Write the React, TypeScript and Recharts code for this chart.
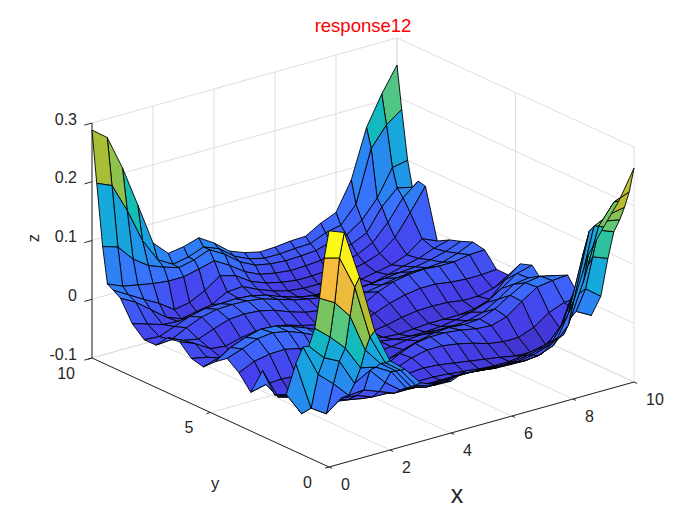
import { ScatterChart, Scatter, XAxis, YAxis } from "recharts";

const xValues = [0, 0.5, 1, 1.5, 2, 2.5, 3, 3.5, 4, 4.5, 5, 5.5, 6, 6.5, 7, 7.5, 8, 8.5, 9, 9.5, 10];
const yValues = [10, 9.8, 9.55, 9.35, 9.1, 8.8, 8.3, 7.8, 7.3, 6.8, 6.3, 5.8, 5.3, 4.8, 4.3, 3.8, 3.3, 2.8, 2.3, 1.8, 1.4, 1.1, 0.85, 0.6, 0.4, 0.2, 0];

// one row per y value, back to front
const zValues = [
    [.288, .268, .209, .139, .067, .042, .046, .054, .038, .017, .007, .001, .002, .005, .006, .021, .032, .080, .162, .212, .254],
    [.201, .190, .140, .082, .042, .027, .032, .042, .032, .012, .000, -.006, -.006, -.004, -.003, .008, .014, .042, .130, .163, .182],
    [.098, .090, .062, .044, .034, .026, .032, .042, .027, .007, -.006, -.011, -.013, -.012, -.010, -.002, .002, .020, .050, .095, .100],
    [.038, .027, .022, .017, .014, .014, .020, .027, .012, -.006, -.018, -.023, -.026, -.025, -.023, -.016, -.010, .002, .039, .064, .058],
    [.032, .017, .002, -.012, -.030, -.025, -.012, .006, -.001, -.018, -.028, -.034, -.038, -.038, -.036, -.030, -.023, -.010, .017, .052, .073],
    [.024, .010, -.010, -.030, -.040, -.035, -.030, -.016, -.014, -.026, -.036, -.043, -.046, -.046, -.044, -.038, -.032, -.023, -.003, .032, .070],
    [-.010, -.018, -.026, -.028, -.026, -.023, -.020, -.018, -.023, -.033, -.040, -.046, -.048, -.048, -.048, -.043, -.038, -.033, -.023, -.003, -.014],
    [-.028, -.030, -.020, -.010, -.004, -.003, -.002, -.004, -.010, -.020, -.028, -.033, -.038, -.041, -.042, -.040, -.033, -.026, -.020, -.010, -.003],
    [-.028, -.026, -.013, -.002, .004, .005, .004, .000, -.008, -.016, -.022, -.026, -.028, -.028, -.026, -.023, -.020, -.018, -.013, -.006, .004],
    [-.006, -.018, -.023, -.013, -.004, -.002, -.004, -.010, -.020, -.028, -.032, -.033, -.030, -.023, -.018, -.013, -.010, -.010, -.008, .000, .012],
    [-.004, -.014, -.030, -.033, -.026, -.022, -.022, -.026, -.034, -.040, -.042, -.038, -.028, -.013, -.003, .002, .004, .002, .002, .007, .008],
    [-.023, -.028, -.038, -.043, -.038, -.030, -.028, -.032, -.040, -.045, -.048, -.043, -.033, -.023, -.016, -.012, -.012, -.016, -.018, -.018, -.016],
    [-.028, -.020, -.018, -.016, -.018, -.020, -.024, -.030, -.038, -.044, -.048, -.048, -.044, -.038, -.034, -.033, -.034, -.038, -.038, -.032, -.016],
    [-.010, .007, .017, .024, .022, .014, .004, -.008, -.022, -.034, -.042, -.048, -.050, -.048, -.046, -.046, -.046, -.043, -.034, -.008, .012],
    [.005, .014, .024, .027, .022, .012, .000, -.013, -.026, -.034, -.038, -.042, -.044, -.044, -.042, -.038, -.032, -.023, -.006, .012, .019],
    [-.010, .002, .007, .008, .002, -.010, -.020, -.030, -.038, -.040, -.038, -.034, -.032, -.032, -.032, -.030, -.023, -.008, .010, .014, -.003],
    [-.034, -.028, -.026, -.028, -.032, -.038, -.043, -.048, -.048, -.043, -.034, -.026, -.020, -.018, -.020, -.018, -.008, .008, .022, .026, .020],
    [.012, -.040, -.048, -.054, -.056, -.056, -.054, -.048, -.038, -.024, -.014, -.010, -.010, -.013, -.018, -.020, -.012, .007, .024, .028, .030],
    [-.020, -.028, -.038, -.053, -.060, -.060, -.053, -.043, -.032, -.022, -.016, -.016, -.020, -.026, -.034, -.038, -.038, -.028, -.010, .000, .002],
    [-.010, -.050, -.030, -.038, -.048, -.053, -.048, -.038, -.032, -.030, -.032, -.036, -.040, -.044, -.048, -.053, -.054, -.048, -.030, -.006, -.020],
    [.050, -.033, -.050, -.030, -.033, -.043, -.044, -.040, -.038, -.038, -.040, -.043, -.046, -.048, -.048, -.046, -.043, -.036, .028, .040, .020],
    [.084, .030, .007, -.020, -.018, -.028, -.038, -.038, -.038, -.038, -.038, -.038, -.040, -.040, -.038, -.033, -.028, .000, .060, .100, .090],
    [.090, .063, .050, .005, .020, -.008, -.028, -.031, -.031, -.031, -.030, -.032, -.033, -.032, -.028, -.023, -.016, .020, .118, .150, .140],
    [.125, .103, .077, .036, .030, .015, -.020, -.026, -.026, -.024, -.023, -.026, -.028, -.026, -.022, -.016, -.006, .050, .160, .170, .165],
    [.180, .165, .135, .070, .040, .020, -.014, -.022, -.022, -.018, -.018, -.020, -.022, -.022, -.018, -.010, .002, .070, .172, .185, .190],
    [.252, .245, .188, .096, .045, .025, -.008, -.016, -.016, -.010, -.012, -.016, -.016, -.018, -.016, -.006, .022, .090, .176, .210, .220],
    [.302, .292, .209, .110, .052, .030, .000, -.011, -.012, -.001, -.006, -.011, -.012, -.012, -.008, .012, .062, .138, .178, .215, .264],
];

const xTicks = [0, 2, 4, 6, 8, 10];
const yTicks = [0, 5, 10];
const zTicks = [-0.1, 0, 0.1, 0.2, 0.3];
const zTickLabels = ["-0.1", "0", "0.1", "0.2", "0.3"];

const parula = ["#3e26a8", "#4640ec", "#3a70fe", "#1f96e8", "#13b0d6", "#14bdb4", "#5cc87c", "#b0bd2e", "#fbbb3e", "#f9fb15"];
const parulaStops = [0, 0.12, 0.25, 0.38, 0.5, 0.58, 0.65, 0.75, 0.88, 1];

const zMin = -0.08;
const zMax = 0.3;

// the fixed 3d view of the original, x/y/z to the 700x525 picture plane
const project = (x: number, y: number, z: number) => ({
    px: 329 + 30.5 * x - 23.7 * y,
    py: 467 - 8.5 * x - 10.9 * y - 587.5 * (z + 0.1),
});

const mix = (a: string, b: string, t: number) => {
    const ch = (s: string, i: number) => parseInt(s.slice(i, i + 2), 16);
    const out = [1, 3, 5].map((i) => Math.round(ch(a, i) + (ch(b, i) - ch(a, i)) * t));
    return `rgb(${out.join(",")})`;
};

const faceColor = (z: number) => {
    const v = Math.min(1, Math.max(0, (z - zMin) / (zMax - zMin)));
    let i = 0;
    while (i < parulaStops.length - 2 && v > parulaStops[i + 1]) i++;
    return mix(parula[i], parula[i + 1], (v - parulaStops[i]) / (parulaStops[i + 1] - parulaStops[i]));
};

// far cells first so the near ones paint over them
const facePoints: { px: number; py: number }[] = [];
const faceColors: string[] = [];
for (let j = 0; j < yValues.length - 1; j++) {
    for (let i = xValues.length - 2; i >= 0; i--) {
        facePoints.push(
            project(xValues[i], yValues[j + 1], zValues[j + 1][i]),
            project(xValues[i + 1], yValues[j + 1], zValues[j + 1][i + 1]),
            project(xValues[i + 1], yValues[j], zValues[j][i + 1]),
            project(xValues[i], yValues[j], zValues[j][i]),
        );
        faceColors.push(faceColor(zValues[j + 1][i]));
    }
}

const zFloor = -0.1;
const zTop = 0.3;
const gridPoints: { px: number; py: number }[] = [];
const addPath = (list: { px: number; py: number }[], a: number[], b: number[], c?: number[]) => {
    const pts = [a, b, c ?? b].map((p) => project(p[0], p[1], p[2]));
    list.push(pts[0], pts[1], pts[1], pts[2]);
};
xTicks.forEach((x) => addPath(gridPoints, [x, 0, zFloor], [x, 10, zFloor], [x, 10, zTop]));
yTicks.forEach((y) => addPath(gridPoints, [0, y, zFloor], [10, y, zFloor], [10, y, zTop]));
zTicks.forEach((z) => addPath(gridPoints, [0, 10, z], [10, 10, z], [10, 0, z]));

const axisPoints: { px: number; py: number }[] = [];
addPath(axisPoints, [10, 0, zFloor], [0, 0, zFloor], [0, 10, zFloor]);
addPath(axisPoints, [0, 10, zFloor], [0, 10, zTop]);
xTicks.forEach((x) => addPath(axisPoints, [x, 0, zFloor], [x, -0.13, zFloor]));
yTicks.forEach((y) => addPath(axisPoints, [0, y, zFloor], [-0.13, y, zFloor]));
zTicks.forEach((z) => addPath(axisPoints, [0, 10, z], [-0.25, 10, z]));

const tickStyle = { size: 16, color: "#262626", rot: 0 };
const shift = (p: { px: number; py: number }, dx: number, dy: number) => ({ px: p.px + dx, py: p.py + dy });

const labelPoints = [
    ...xTicks.map((x) => ({ ...shift(project(x, 0, zFloor), 12, 17), text: String(x), anchor: "start", ...tickStyle })),
    ...yTicks.map((y) => ({ ...shift(project(0, y, zFloor), -17, 15), text: String(y), anchor: "end", ...tickStyle })),
    ...zTicks.map((z, i) => ({ ...shift(project(0, 10, z), -15, -4), text: zTickLabels[i], anchor: "end", ...tickStyle })),
    { px: 457, py: 494, text: "x", size: 25, color: "#262626", anchor: "middle", rot: 0 },
    { px: 215, py: 483, text: "y", size: 16.5, color: "#262626", anchor: "middle", rot: 0 },
    { px: 33, py: 238, text: "z", size: 16.5, color: "#262626", anchor: "middle", rot: -90 },
    { px: 363, py: 25, text: "response12", size: 18.5, color: "#ff0000", anchor: "middle", rot: 0 },
];

const noDot = () => <g />;

const segments = (stroke: string, width: number) => (props: any) => (
    <g>
        {props.points.map((p: any, i: number) =>
            i % 2 === 0 ? (
                <line key={i} x1={p.x} y1={p.y} x2={props.points[i + 1].x} y2={props.points[i + 1].y} stroke={stroke} strokeWidth={width} />
            ) : null,
        )}
    </g>
);

const faces = (props: any) => (
    <g>
        {faceColors.map((color, k) => (
            <polygon
                key={k}
                points={props.points.slice(k * 4, k * 4 + 4).map((p: any) => `${p.x},${p.y}`).join(" ")}
                fill={color}
                stroke="#000000"
                strokeWidth={0.9}
                strokeLinejoin="round"
            />
        ))}
    </g>
);

const labelShape = (props: any) => {
    const d = props.payload;
    return (
        <text
            x={props.cx}
            y={props.cy}
            fontFamily="'Liberation Sans', Arial, sans-serif"
            fontSize={d.size}
            fill={d.color}
            textAnchor={d.anchor}
            dominantBaseline="central"
            transform={d.rot ? `rotate(${d.rot} ${props.cx} ${props.cy})` : undefined}
        >
            {d.text}
        </text>
    );
};

export default function App() {
    return (
        <div style={{ position: "absolute", left: 0, top: 0, width: 700, height: 525, background: "#ffffff" }}>
            <ScatterChart width={700} height={525} margin={{ top: 0, right: 0, bottom: 0, left: 0 }}>
                <XAxis type="number" dataKey="px" domain={[0, 700]} hide />
                <YAxis type="number" dataKey="py" domain={[0, 525]} reversed hide />
                <Scatter data={gridPoints} line={segments("#dedede", 1)} shape={noDot} isAnimationActive={false} />
                <Scatter data={axisPoints} line={segments("#262626", 1)} shape={noDot} isAnimationActive={false} />
                <Scatter data={facePoints} line={faces} shape={noDot} isAnimationActive={false} />
                <Scatter data={labelPoints} shape={labelShape} isAnimationActive={false} />
            </ScatterChart>
        </div>
    );
}
